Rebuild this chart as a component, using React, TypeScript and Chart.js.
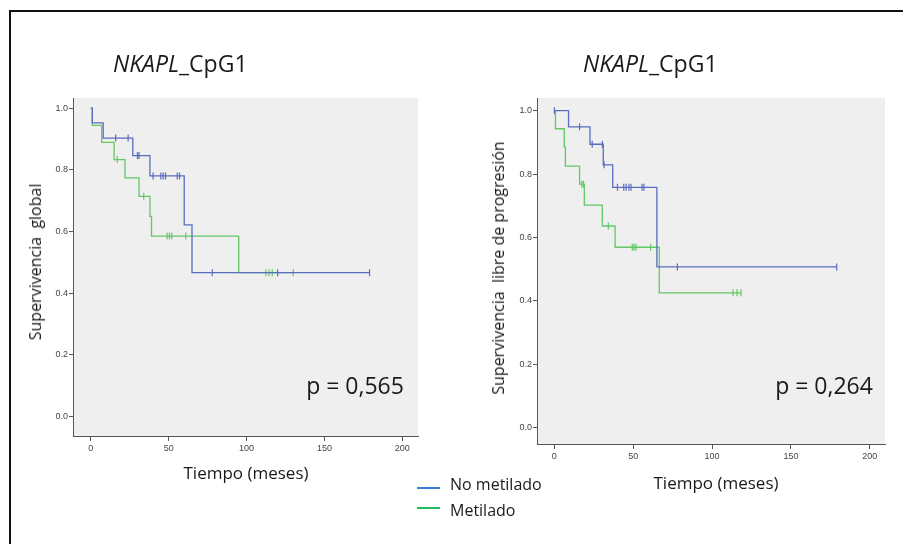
import React, { useEffect, useRef } from "react";
import { Chart, registerables } from "chart.js";

Chart.register(...registerables);

// ---------- Data ----------
// Left panel: overall survival
const blueOsTimes = [0, 1, 8, 27, 38, 60, 65, 179];
const blueOsSurv = [1.0, 0.952, 0.903, 0.846, 0.78, 0.621, 0.466, 0.466];
const blueOsCensorT = [16, 24, 30, 31, 40, 45, 46.5, 48, 55.5, 57, 78, 120, 179];
const blueOsCensorS = [0.903, 0.903, 0.846, 0.846, 0.78, 0.78, 0.78, 0.78, 0.78, 0.78, 0.466, 0.466, 0.466];

const greenOsTimes = [0, 1, 7, 15, 22, 31, 38, 39, 95, 130];
const greenOsSurv = [1.0, 0.944, 0.889, 0.833, 0.774, 0.714, 0.649, 0.585, 0.466, 0.466];
const greenOsCensorT = [17, 34, 49, 50.5, 52, 61, 112.5, 114.5, 116.5, 130];
const greenOsCensorS = [0.833, 0.714, 0.585, 0.585, 0.585, 0.585, 0.466, 0.466, 0.466, 0.466];

// Right panel: progression-free survival
const bluePfsTimes = [0, 9, 22.6, 31, 37, 65, 179];
const bluePfsSurv = [1.0, 0.949, 0.894, 0.829, 0.758, 0.507, 0.507];
const bluePfsCensorT = [0, 16, 24, 30.4, 31.5, 40, 44, 45.5, 47.3, 48.6, 55.6, 56.8, 78, 179];
const bluePfsCensorS = [1.0, 0.949, 0.894, 0.894, 0.829, 0.758, 0.758, 0.758, 0.758, 0.758, 0.758, 0.758, 0.507, 0.507];

const greenPfsTimes = [0, 0.7, 6.3, 7, 16, 19, 30.4, 38.5, 66.5, 118.5];
const greenPfsSurv = [1.0, 0.943, 0.886, 0.825, 0.768, 0.702, 0.636, 0.569, 0.425, 0.425];
const greenPfsCensorT = [17.4, 18.4, 34.2, 49.4, 50.5, 51.8, 61, 113.3, 115.8, 118.3];
const greenPfsCensorS = [0.768, 0.768, 0.636, 0.569, 0.569, 0.569, 0.569, 0.425, 0.425, 0.425];

const xTickValues = [0, 50, 100, 150, 200];
const yTickValues = [0, 0.2, 0.4, 0.6, 0.8, 1.0];

const seriesNames = ["No metilado", "Metilado"];
const panelTitle = "CpG1";
const panelGene = "NKAPL";
const yTitles = ["Supervivencia  global", "Supervivencia  libre de progresión"];
const xTitle = "Tiempo (meses)";
const pValues = ["p = 0,565", "p = 0,264"];

// ---------- Styles ----------
const BLUE_LINE = "#5a6cbf";
const GREEN_LINE = "#62c866";
const LEGEND_BLUE = "#2f7fd4";
const LEGEND_GREEN = "#1fbf5c";
const FONT = "'Open Sans', 'Noto Sans', sans-serif";

const zip = (xs: number[], ys: number[]) => xs.map((x, i) => ({ x, y: ys[i] }));

const bgPlugin = {
  id: "plotBg",
  beforeDraw(chart: any) {
    const { ctx, chartArea } = chart;
    ctx.save();
    ctx.fillStyle = "#efefef";
    ctx.fillRect(chartArea.left, chartArea.top, chartArea.right - chartArea.left, chartArea.bottom - chartArea.top);
    ctx.restore();
  },
};

function makeConfig(
  curves: { t: number[]; s: number[]; ct: number[]; cs: number[]; color: string }[],
  padding: any,
  xr: [number, number],
  yr: [number, number]
) {
  const datasets: any[] = [];
  curves.forEach((c) => {
    datasets.push({
      data: zip(c.t, c.s),
      borderColor: c.color,
      borderWidth: 1.3,
      stepped: "before",
      pointRadius: 0,
      fill: false,
    });
    datasets.push({
      data: zip(c.ct, c.cs),
      borderColor: c.color,
      backgroundColor: c.color,
      showLine: false,
      pointStyle: "line",
      rotation: 90,
      pointRadius: 3.5,
      pointBorderWidth: 1.2,
    });
  });
  const tickFont = { family: "'Liberation Sans', Arial, sans-serif", size: 9 };
  return {
    type: "line",
    data: { datasets },
    plugins: [bgPlugin],
    options: {
      animation: false,
      responsive: false,
      events: [],
      layout: { padding },
      plugins: { legend: { display: false }, tooltip: { enabled: false } },
      scales: {
        x: {
          type: "linear",
          min: xr[0],
          max: xr[1],
          afterBuildTicks: (scale: any) => {
            scale.ticks = xTickValues.map((v) => ({ value: v }));
          },
          afterFit: (scale: any) => {
            scale.height = 20;
          },
          ticks: { font: tickFont, color: "#444", padding: 2, maxRotation: 0, autoSkip: false },
          grid: { drawOnChartArea: false, drawTicks: true, tickLength: 5, color: "#555" },
          border: { display: true, color: "#555", width: 1 },
        },
        y: {
          type: "linear",
          min: yr[0],
          max: yr[1],
          afterBuildTicks: (scale: any) => {
            scale.ticks = yTickValues.map((v) => ({ value: v }));
          },
          afterFit: (scale: any) => {
            scale.width = 33;
          },
          ticks: {
            font: tickFont,
            color: "#444",
            padding: 1,
            autoSkip: false,
            callback: (v: any) => Number(v).toFixed(1),
          },
          grid: { drawOnChartArea: false, drawTicks: true, tickLength: 4, color: "#555" },
          border: { display: true, color: "#555", width: 1 },
        },
      },
    },
  };
}

const abs = (s: any) => ({ position: "absolute", ...s } as React.CSSProperties);

export default function App() {
  const leftRef = useRef<HTMLCanvasElement>(null);
  const rightRef = useRef<HTMLCanvasElement>(null);

  useEffect(() => {
    const c1 = new Chart(
      leftRef.current as HTMLCanvasElement,
      makeConfig(
        [
          { t: blueOsTimes, s: blueOsSurv, ct: blueOsCensorT, cs: blueOsCensorS, color: BLUE_LINE },
          { t: greenOsTimes, s: greenOsSurv, ct: greenOsCensorT, cs: greenOsCensorS, color: GREEN_LINE },
        ],
        { left: 40, top: 98, right: 485, bottom: 88 },
        [-11.4, 210.1],
        [-0.064, 1.033]
      ) as any
    );
    const c2 = new Chart(
      rightRef.current as HTMLCanvasElement,
      makeConfig(
        [
          { t: bluePfsTimes, s: bluePfsSurv, ct: bluePfsCensorT, cs: bluePfsCensorS, color: BLUE_LINE },
          { t: greenPfsTimes, s: greenPfsSurv, ct: greenPfsCensorT, cs: greenPfsCensorS, color: GREEN_LINE },
        ],
        { left: 504, top: 98, right: 18, bottom: 80 },
        [-11.0, 209.6],
        [-0.052, 1.04]
      ) as any
    );
    return () => {
      c1.destroy();
      c2.destroy();
    };
  }, []);

  const textBase = { fontFamily: FONT, color: "#1a1a1a", lineHeight: 1, whiteSpace: "pre" };

  return (
    <div style={abs({ left: 0, top: 0, width: 903, height: 544, background: "#fff", overflow: "hidden" })}>
      {/* frame */}
      <div
        style={abs({
          left: 9,
          top: 10,
          width: 903,
          height: 544,
          borderTop: "2px solid #111",
          borderLeft: "2px solid #111",
        })}
      />
      <canvas ref={leftRef} width={903} height={544} style={abs({ left: 0, top: 0 })} />
      <canvas ref={rightRef} width={903} height={544} style={abs({ left: 0, top: 0 })} />

      {/* titles */}
      <div style={abs({ ...textBase, left: 113, top: 52, fontSize: 23 })}>
        <i>{panelGene}</i>_{panelTitle}
      </div>
      <div style={abs({ ...textBase, left: 583, top: 52, fontSize: 23 })}>
        <i>{panelGene}</i>_{panelTitle}
      </div>

      {/* y titles */}
      <div
        style={abs({
          ...textBase,
          left: 35,
          top: 262,
          fontSize: 16,
          transform: "translate(-50%, -50%) rotate(-90deg)",
        })}
      >
        {yTitles[0]}
      </div>
      <div
        style={abs({
          ...textBase,
          left: 498,
          top: 268,
          fontSize: 16,
          transform: "translate(-50%, -50%) rotate(-90deg)",
        })}
      >
        {yTitles[1]}
      </div>

      {/* x titles */}
      <div style={abs({ ...textBase, left: 246, top: 472, fontSize: 17, transform: "translate(-50%, -50%)" })}>
        {xTitle}
      </div>
      <div style={abs({ ...textBase, left: 716, top: 482, fontSize: 17, transform: "translate(-50%, -50%)" })}>
        {xTitle}
      </div>

      {/* p values */}
      <div style={abs({ ...textBase, left: 355, top: 385, fontSize: 23, transform: "translate(-50%, -50%)" })}>
        {pValues[0]}
      </div>
      <div style={abs({ ...textBase, left: 824, top: 385, fontSize: 23, transform: "translate(-50%, -50%)" })}>
        {pValues[1]}
      </div>

      {/* legend */}
      <div style={abs({ left: 417, top: 487, width: 23, height: 2, background: LEGEND_BLUE })} />
      <div style={abs({ ...textBase, left: 450, top: 484, fontSize: 16, transform: "translateY(-50%)" })}>
        {seriesNames[0]}
      </div>
      <div style={abs({ left: 417, top: 507, width: 23, height: 2, background: LEGEND_GREEN })} />
      <div style={abs({ ...textBase, left: 450, top: 510, fontSize: 16, transform: "translateY(-50%)" })}>
        {seriesNames[1]}
      </div>
    </div>
  );
}
